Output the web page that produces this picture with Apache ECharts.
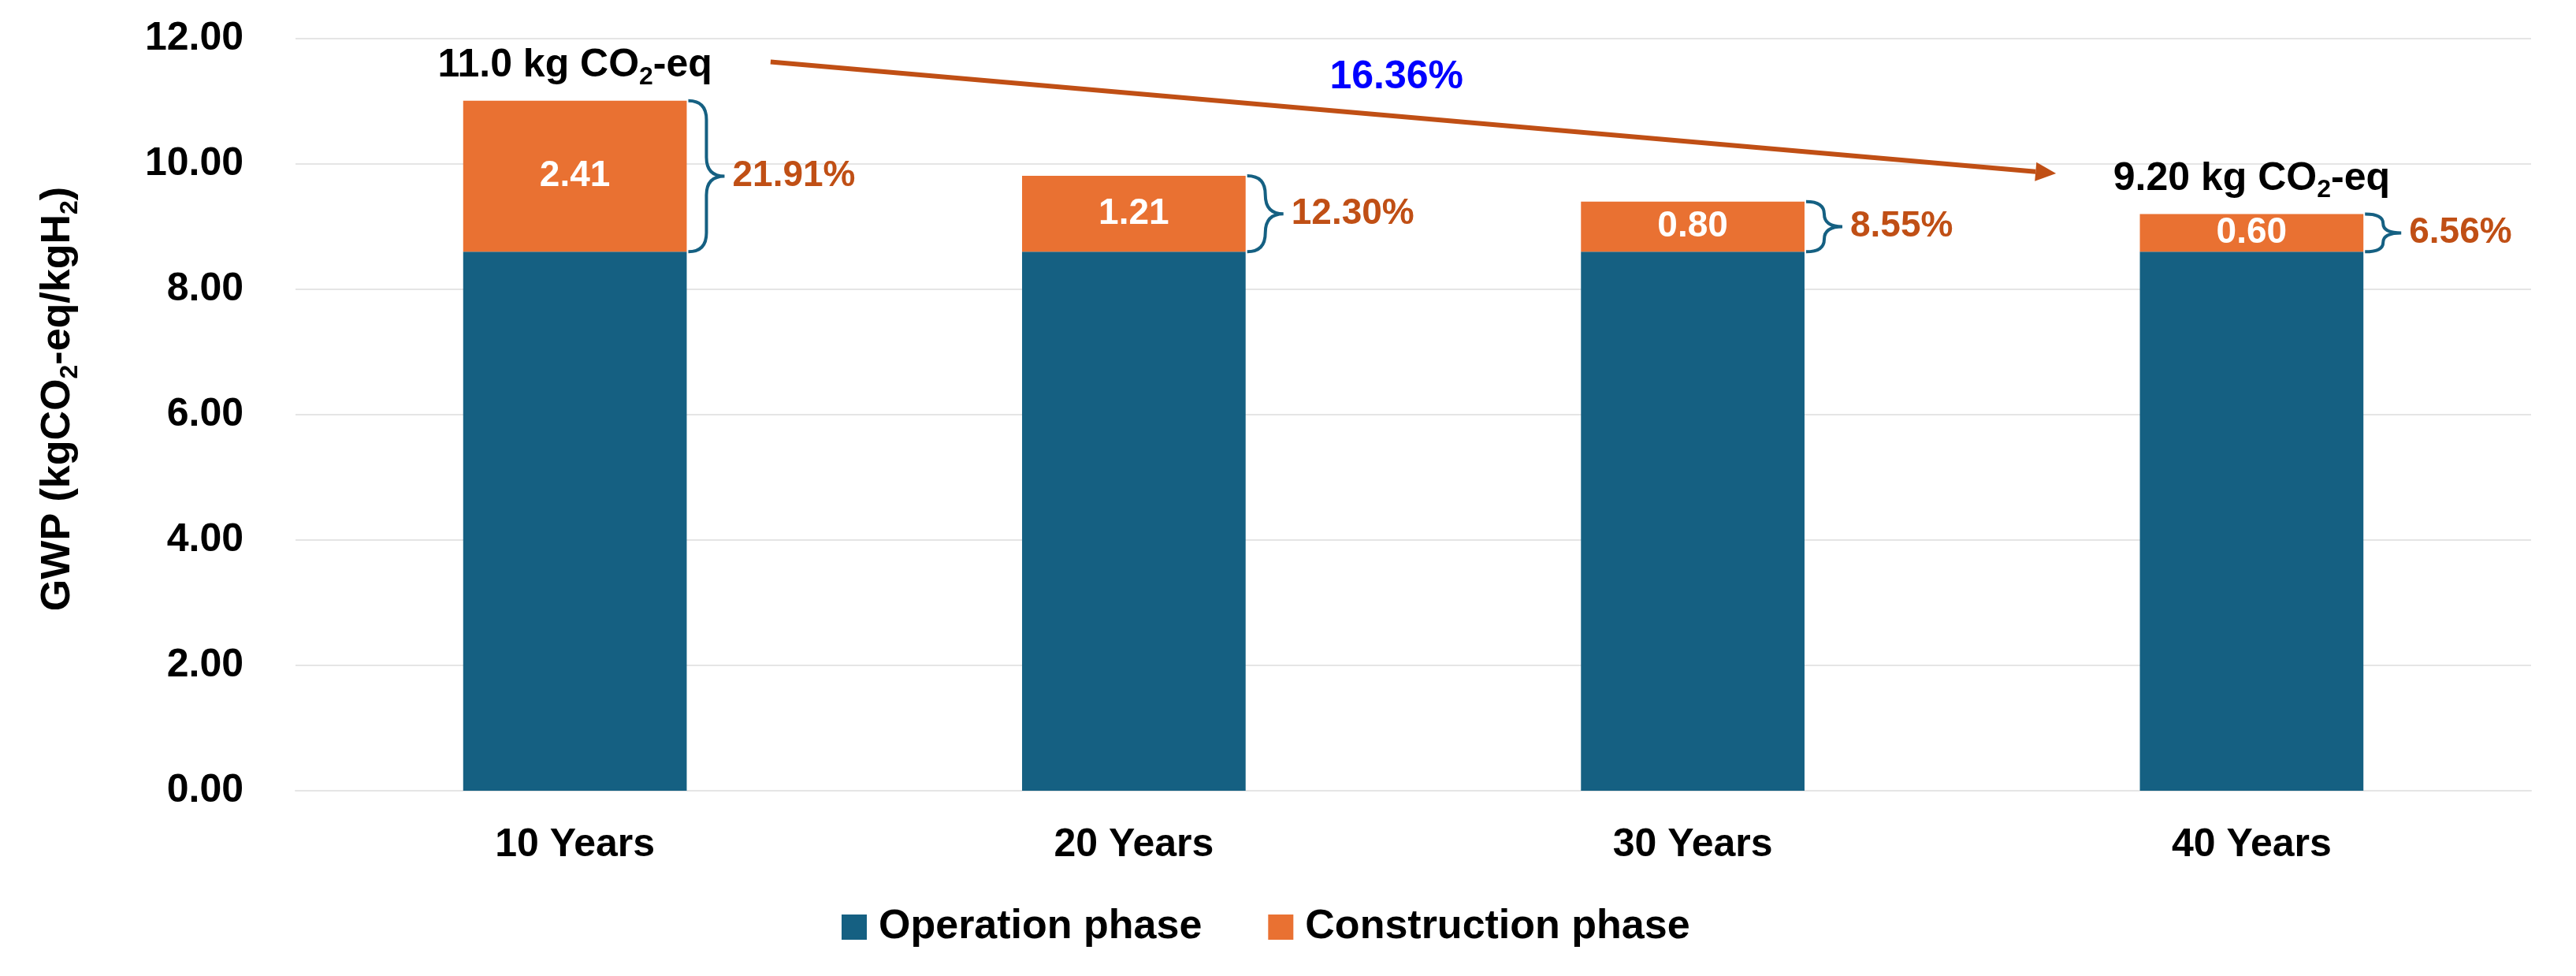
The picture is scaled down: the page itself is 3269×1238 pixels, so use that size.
<!DOCTYPE html>
<html>
<head>
<meta charset="utf-8">
<script src="https://cdn.jsdelivr.net/npm/echarts@6/dist/echarts.min.js"></script>
<style>
html,body{margin:0;padding:0;background:#fff;}
#chart{width:3269px;height:1238px;}
</style>
</head>
<body>
<div id="chart"></div>
<script>
// ---- data ----
const categories = ['10 Years', '20 Years', '30 Years', '40 Years'];
const operation = [8.60, 8.60, 8.60, 8.60];
const construction = [2.41, 1.21, 0.80, 0.60];
const constructionShare = ['21.91%', '12.30%', '8.55%', '6.56%'];
const totalLabels = ['11.0', null, null, '9.20'];
const yTicks = [0, 12, 2]; // min, max, interval
const arrowStart = [0.35, 11.63];   // [category position, value]
const arrowEnd = [2.65, 9.85];
const reductionText = '16.36%';
const reductionPos = [1.47, 11.38];

const totals = operation.map((v, i) => +(v + construction[i]).toFixed(2));

const FONT = '"Liberation Sans", Arial, sans-serif';
const C_OP = '#156082';
const C_CON = '#E97132';
const C_DARK_OR = '#C04F15';

const chart = echarts.init(document.getElementById('chart'), null, {renderer: 'canvas'});

function catX(api, c, y) {
  const base = Math.floor(c);
  const band = api.size([1, 0])[0];
  return api.coord([base, y])[0] + (c - base) * band;
}

const subRich = {
  m: {fontFamily: FONT, fontWeight: 'bold', fontSize: 50, color: '#000000', opacity: 1, lineHeight: 60},
  s: {fontFamily: FONT, fontWeight: 'bold', fontSize: 32, color: '#000000', opacity: 1, lineHeight: 30, verticalAlign: 'bottom'}
};

const option = {
  backgroundColor: '#ffffff',
  animation: false,
  textStyle: {fontFamily: FONT},
  grid: {left: 375, right: 57, top: 49, bottom: 235, containLabel: false},
  legend: {
    data: ['Operation phase', 'Construction phase'],
    left: 1063, top: 1145,
    icon: 'rect', itemWidth: 32, itemHeight: 32, itemGap: 84,
    textStyle: {fontFamily: FONT, fontWeight: 'bold', fontSize: 52, color: '#000', padding: [0, 0, 0, 10]}
  },
  xAxis: {
    type: 'category',
    data: categories,
    axisTick: {show: false},
    axisLine: {show: true, lineStyle: {color: '#E5E5E5', width: 2}},
    axisLabel: {fontFamily: FONT, fontWeight: 'bold', fontSize: 50, color: '#000', margin: 41, lineHeight: 56}
  },
  yAxis: {
    type: 'value',
    min: yTicks[0], max: yTicks[1], interval: yTicks[2],
    axisLine: {show: false}, axisTick: {show: false},
    splitLine: {lineStyle: {color: '#E5E5E5', width: 2}},
    axisLabel: {fontFamily: FONT, fontWeight: 'bold', fontSize: 50, color: '#000', margin: 66,
      formatter: v => v.toFixed(2)},
    name: '{m|GWP (kgCO}{s|2}{m|-eq/kgH}{s|2}{m|)}',
    nameLocation: 'middle',
    nameGap: 270,
    nameRotate: 90,
    nameTextStyle: {
      padding: [0, 0, 0, 40],
      rich: {
        m: {fontFamily: FONT, fontWeight: 'bold', fontSize: 52, color: '#000', lineHeight: 62},
        s: {fontFamily: FONT, fontWeight: 'bold', fontSize: 32, color: '#000', lineHeight: 30, verticalAlign: 'bottom'}
      }
    }
  },
  series: [
    {
      name: 'Operation phase', type: 'bar', stack: 'total', barWidth: '40%',
      itemStyle: {color: C_OP},
      data: operation
    },
    {
      name: 'Construction phase', type: 'bar', stack: 'total', barWidth: '40%',
      itemStyle: {color: C_CON},
      label: {show: true, position: 'inside', color: '#fff', fontFamily: FONT, fontWeight: 'bold', fontSize: 46,
        formatter: p => p.value.toFixed(2)},
      data: construction
    },
    {
      name: 'totals', type: 'scatter', symbolSize: 0, silent: true,
      itemStyle: {color: '#000', opacity: 1},
      data: totals.map((t, i) => [i, t]).filter((d, i) => totalLabels[i]),
      label: {
        show: true, position: 'top', distance: 14, color: '#000000',
        formatter: p => '{m|' + totalLabels[p.data[0]] + ' kg CO}{s|2}{m|-eq}',
        rich: subRich
      },
      emphasis: {disabled: true}
    },
    {
      name: 'braces', type: 'custom', silent: true,
      data: categories.map((c, i) => [i, operation[i], totals[i]]),
      renderItem: function (params, api) {
        const i = api.value(0);
        const top = api.coord([i, api.value(2)]);
        const bot = api.coord([i, api.value(1)]);
        const band = api.size([1, 0])[0];
        const x0 = top[0] + band * 0.2 + 2;
        const w = 46, xm = x0 + w / 2;
        const y1 = top[1], y2 = bot[1], ym = (y1 + y2) / 2;
        const r = Math.min(24, (y2 - y1) / 4);
        const d = `M${x0} ${y1} Q${xm} ${y1} ${xm} ${y1 + r} L${xm} ${ym - r} Q${xm} ${ym} ${x0 + w} ${ym} ` +
                  `Q${xm} ${ym} ${xm} ${ym + r} L${xm} ${y2 - r} Q${xm} ${y2} ${x0} ${y2}`;
        return {
          type: 'group',
          children: [
            {type: 'path', shape: {pathData: d}, style: {stroke: C_OP, lineWidth: 4, fill: null}},
            {type: 'text', x: x0 + w + 10, y: ym,
              style: {text: constructionShare[params.dataIndex], fill: C_DARK_OR, fontFamily: FONT,
                fontWeight: 'bold', fontSize: 46, align: 'left', verticalAlign: 'middle'}}
          ]
        };
      }
    },
    {
      name: 'arrow', type: 'custom', silent: true,
      data: [[0, 0]],
      renderItem: function (params, api) {
        const x1 = catX(api, arrowStart[0], arrowStart[1]);
        const y1 = api.coord([0, arrowStart[1]])[1];
        const x2 = catX(api, arrowEnd[0], arrowEnd[1]);
        const y2 = api.coord([0, arrowEnd[1]])[1];
        const ang = Math.atan2(y2 - y1, x2 - x1);
        const hl = 26, hw = 12;
        const bx = x2 - hl * Math.cos(ang), by = y2 - hl * Math.sin(ang);
        const px = -Math.sin(ang) * hw, py = Math.cos(ang) * hw;
        const tx = catX(api, reductionPos[0], reductionPos[1]);
        const ty = api.coord([0, reductionPos[1]])[1];
        return {
          type: 'group',
          children: [
            {type: 'line', shape: {x1: x1, y1: y1, x2: bx, y2: by}, style: {stroke: C_DARK_OR, lineWidth: 6}},
            {type: 'polygon', shape: {points: [[x2, y2], [bx + px, by + py], [bx - px, by - py]]}, style: {fill: C_DARK_OR}},
            {type: 'text', x: tx, y: ty, style: {text: reductionText, fill: '#0000FF', fontFamily: FONT,
              fontWeight: 'bold', fontSize: 50, align: 'center', verticalAlign: 'middle'}}
          ]
        };
      }
    }
  ]
};
chart.setOption(option);
</script>
</body>
</html>
